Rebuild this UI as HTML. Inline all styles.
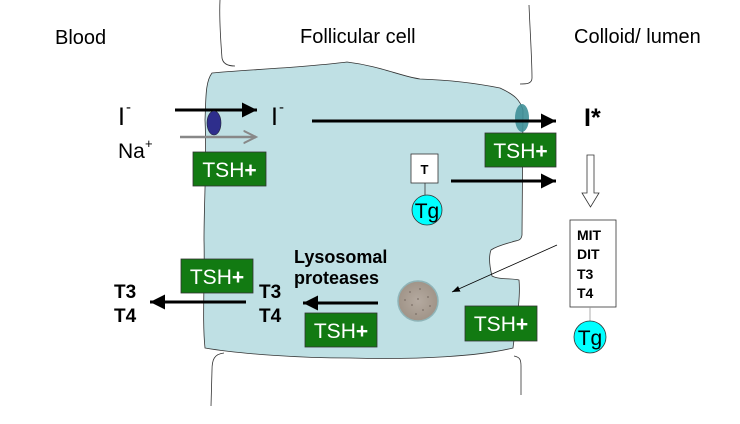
<!DOCTYPE html>
<html><head><meta charset="utf-8"><style>
html,body{margin:0;padding:0;background:#fff;}
svg{display:block;font-family:"Liberation Sans",Arial,sans-serif;}
</style></head><body>
<svg width="740" height="424" viewBox="0 0 740 424" xmlns="http://www.w3.org/2000/svg">
<defs>
<marker id="ah" markerWidth="6" markerHeight="6" refX="5" refY="3" orient="auto" markerUnits="strokeWidth"><path d="M0,0.5 L5,3 L0,5.5 z" fill="#000"/></marker>
<marker id="ahg" markerWidth="6" markerHeight="6" refX="5" refY="3" orient="auto" markerUnits="strokeWidth"><path d="M0,0.5 L5,3 L0,5.5" fill="none" stroke="#888" stroke-width="0.8"/></marker>
<marker id="aht" markerWidth="10" markerHeight="10" refX="8" refY="4" orient="auto" markerUnits="userSpaceOnUse"><path d="M0,1 L8,4 L0,7 z" fill="#000"/></marker>
<radialGradient id="lg"><stop offset="0" stop-color="#b5aaa0"/><stop offset="1" stop-color="#a09488"/></radialGradient>
</defs>
<path d="M220,0 C219,20 221,45 222,58 C223,64 228,66 235,66" fill="none" stroke="#333" stroke-width="0.8"/>
<path d="M529,5 C530,30 532,60 532,78 C532,84 526,84 520,84" fill="none" stroke="#333" stroke-width="0.8"/>
<path d="M224,353 C214,354 212,360 212,370 L211,406" fill="none" stroke="#333" stroke-width="0.8"/>
<path d="M514,356 C520,357 521,360 521,366 L521,395" fill="none" stroke="#333" stroke-width="0.8"/>
<path d="M212,73 C240,70 300,68 347,62 C380,66 400,76 420,79 C450,80 480,84 500,88 C515,95 520,100 523,110 L522,235 C521,242 516,240 512,242 C505,244 497,246 491,250 C488,258 490,268 492,276 C500,280 512,278 519,280 C521,300 515,330 513,348 C480,356 420,360 350,358 C300,358 240,354 205,348 C202,320 205,280 204,240 C204,200 207,160 205,120 C206,100 205,82 212,73 z" fill="#bfe0e4" stroke="#333" stroke-width="0.8"/>
<text x="55" y="44" font-size="20">Blood</text>
<text x="300" y="43" font-size="20">Follicular cell</text>
<text x="574" y="43" font-size="20">Colloid/ lumen</text>
<text x="118" y="125" font-size="25">I</text><text x="126" y="112" font-size="15">-</text>
<text x="118" y="158" font-size="21">Na</text><text x="145" y="148" font-size="13">+</text>
<line x1="175" y1="110" x2="257" y2="110" stroke="#000" stroke-width="3" marker-end="url(#ah)"/>
<line x1="180" y1="137" x2="256" y2="137" stroke="#888" stroke-width="2.5" marker-end="url(#ahg)"/>
<ellipse cx="214" cy="123" rx="7" ry="12" fill="#2e2e8c" stroke="#223" stroke-width="0.6"/>
<rect x="193" y="152" width="73" height="34" fill="#127a12" stroke="#333" stroke-width="0.8"/>
<text x="229.5" y="177" font-size="21" fill="#fff" text-anchor="middle">TSH<tspan font-weight="bold">+</tspan></text>
<text x="271" y="125" font-size="25">I</text><text x="279" y="112" font-size="15">-</text>
<line x1="312" y1="121" x2="556" y2="121" stroke="#000" stroke-width="3" marker-end="url(#ah)"/>
<ellipse cx="522" cy="118" rx="7" ry="14" fill="#3f9098" opacity="0.9"/>
<line x1="312" y1="121" x2="556" y2="121" stroke="#000" stroke-width="3"/>
<rect x="485" y="133" width="71" height="34" fill="#127a12" stroke="#333" stroke-width="0.8"/>
<text x="520.5" y="158" font-size="21" fill="#fff" text-anchor="middle">TSH<tspan font-weight="bold">+</tspan></text>
<text x="584" y="126" font-size="25" font-weight="bold">I*</text>
<rect x="411" y="154" width="27" height="29" fill="#fff" stroke="#333" stroke-width="0.8"/>
<text x="424.5" y="174" font-size="13" font-weight="bold" text-anchor="middle">T</text>
<line x1="425" y1="183" x2="425" y2="195" stroke="#333" stroke-width="0.8"/>
<circle cx="427" cy="210" r="15" fill="#00ffff" stroke="#333" stroke-width="0.8"/>
<text x="427" y="218" font-size="21" text-anchor="middle">Tg</text>
<line x1="451" y1="181" x2="556" y2="181" stroke="#000" stroke-width="3" marker-end="url(#ah)"/>
<path d="M587,155 L594,155 L594,193 L599,193 L590.5,207 L582,193 L587,193 z" fill="#fff" stroke="#333" stroke-width="0.8"/>
<rect x="570" y="220" width="46" height="87" fill="#fff" stroke="#333" stroke-width="0.8"/>
<text x="577" y="240" font-size="14" font-weight="bold">MIT</text>
<text x="577" y="259" font-size="14" font-weight="bold">DIT</text>
<text x="577" y="279" font-size="14" font-weight="bold">T3</text>
<text x="577" y="298" font-size="14" font-weight="bold">T4</text>
<line x1="590" y1="307" x2="590" y2="321" stroke="#999" stroke-width="0.8"/>
<circle cx="590" cy="337" r="16" fill="#00ffff" stroke="#333" stroke-width="0.8"/>
<text x="590" y="345" font-size="21" text-anchor="middle">Tg</text>
<line x1="557" y1="245" x2="452" y2="292" stroke="#000" stroke-width="0.8" marker-end="url(#aht)"/>
<circle cx="418" cy="301" r="20" fill="url(#lg)" stroke="#8fb4b8" stroke-width="1.5"/>
<g fill="#6e625a" opacity="0.6">
<circle cx="410" cy="292" r="1"/><circle cx="420" cy="289" r="1"/><circle cx="428" cy="297" r="1"/><circle cx="412" cy="305" r="1"/><circle cx="423" cy="310" r="1"/><circle cx="405" cy="300" r="1"/><circle cx="430" cy="306" r="1"/><circle cx="416" cy="314" r="1"/><circle cx="418" cy="299" r="1"/>
</g>
<text x="294" y="263" font-size="18" font-weight="bold">Lysosomal</text>
<text x="294" y="284" font-size="18" font-weight="bold">proteases</text>
<line x1="378" y1="303" x2="303" y2="303" stroke="#000" stroke-width="3" marker-end="url(#ah)"/>
<rect x="305" y="313" width="72" height="34" fill="#127a12" stroke="#333" stroke-width="0.8"/>
<text x="341" y="338" font-size="21" fill="#fff" text-anchor="middle">TSH<tspan font-weight="bold">+</tspan></text>
<rect x="465" y="306" width="72" height="35" fill="#127a12" stroke="#333" stroke-width="0.8"/>
<text x="501" y="331" font-size="21" fill="#fff" text-anchor="middle">TSH<tspan font-weight="bold">+</tspan></text>
<rect x="181" y="259" width="72" height="34" fill="#127a12" stroke="#333" stroke-width="0.8"/>
<text x="217" y="284" font-size="21" fill="#fff" text-anchor="middle">TSH<tspan font-weight="bold">+</tspan></text>
<text x="259" y="298" font-size="19" font-weight="bold">T3</text>
<text x="259" y="322" font-size="19" font-weight="bold">T4</text>
<text x="114" y="298" font-size="19" font-weight="bold">T3</text>
<text x="114" y="322" font-size="19" font-weight="bold">T4</text>
<line x1="246" y1="302" x2="150" y2="302" stroke="#000" stroke-width="3" marker-end="url(#ah)"/>
</svg>
</body></html>
